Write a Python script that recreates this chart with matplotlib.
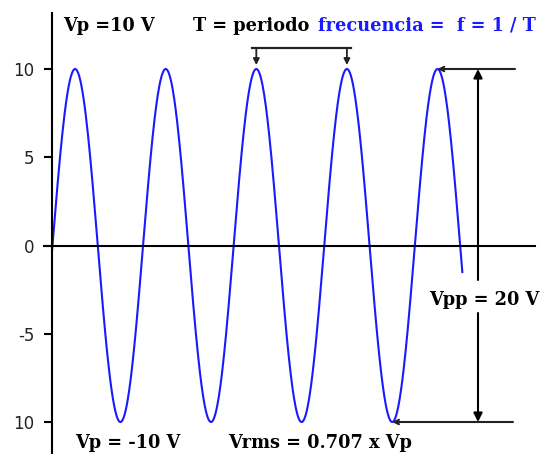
import numpy as np
import matplotlib
matplotlib.use('Agg')
from matplotlib import pyplot as plt

# Signal parameters (time measured in periods, T = 1)
vp = 10.0            # peak voltage
period = 1.0
t_zero = 0.005       # first rising zero crossing
t_start, t_end = 0.0, 4.53

y_ticks = [-10, -5, 0, 5, 10]
y_tick_labels = ['10', '-5', '0', '5', '10']

# Canvas scale: pixels per period / per volt
W, H = 545, 454
x0_px, px_per_T = 52, 90.6
y0_px, px_per_V = 245.5, 17.65

BLUE = '#1a1aff'
INK = '#222222'


def px(x, y):
    # figure fraction from pixel position (origin top-left)
    return x / W, 1 - y / H


fig = plt.figure(figsize=(W / 100, H / 100), dpi=100)
ax = fig.add_axes([0, 0, 1, 1])
ax.set_xlim(-x0_px / px_per_T, (W - x0_px) / px_per_T)
ax.set_ylim(-(H - y0_px) / px_per_V, y0_px / px_per_V)

# Waveform
t = np.linspace(t_start, t_end, 800)
v = vp * np.sin(2 * np.pi * (t - t_zero) / period)
ax.plot(t, v, color=BLUE, lw=1.5, solid_capstyle='butt')

# Axes: left spine and zero line
for side in ['top', 'right']:
    ax.spines[side].set_visible(False)
ax.spines['left'].set_position(('data', 0))
ax.spines['bottom'].set_position(('data', 0))
ax.spines['left'].set_bounds(-12.5, (y0_px - 13) / px_per_V)
ax.spines['bottom'].set_bounds(-8 / px_per_T, (535 - x0_px) / px_per_T)
for side in ['left', 'bottom']:
    ax.spines[side].set_linewidth(1.5)
    ax.spines[side].set_color('black')
ax.set_xticks([])
ax.set_yticks(y_ticks)
ax.set_yticklabels(y_tick_labels)
ax.tick_params(axis='y', direction='out', length=6, width=1.5, pad=6.5,
               labelsize=12, labelcolor=INK, color='black')
for lab in ax.get_yticklabels():
    lab.set_family('DejaVu Sans')

peaks = [t_zero + 0.25 * period + k * period for k in range(5)]
troughs = [t_zero + 0.75 * period + k * period for k in range(4)]

# Period marker over two neighbouring peaks
bar_v = (y0_px - 48) / px_per_V
tip_v = (y0_px - 65) / px_per_V
ax.plot([peaks[2] - 4 / px_per_T, peaks[3] + 4 / px_per_T], [bar_v, bar_v],
        color=INK, lw=1.6)
for tp in peaks[2:4]:
    ax.annotate('', xy=(tp, tip_v), xytext=(tp, bar_v),
                arrowprops=dict(arrowstyle='-|>', color=INK, lw=1.3,
                                mutation_scale=9, shrinkA=0, shrinkB=0))

# Peak-to-peak marker
x_pp = (478 - x0_px) / px_per_T
ax.annotate('', xy=(peaks[4], vp), xytext=((515 - x0_px) / px_per_T, vp),
            arrowprops=dict(arrowstyle='->', color=INK, lw=1.5,
                            mutation_scale=8, shrinkA=0, shrinkB=0))
ax.annotate('', xy=(troughs[3], -vp), xytext=((513 - x0_px) / px_per_T, -vp),
            arrowprops=dict(arrowstyle='->', color=INK, lw=1.5,
                            mutation_scale=8, shrinkA=0, shrinkB=0))
gap_top = (y0_px - 280) / px_per_V
gap_bot = (y0_px - 313) / px_per_V
ax.annotate('', xy=(x_pp, vp), xytext=(x_pp, gap_top),
            arrowprops=dict(arrowstyle='-|>', color='black', lw=1.5,
                            mutation_scale=13, shrinkA=0, shrinkB=0))
ax.annotate('', xy=(x_pp, -vp), xytext=(x_pp, gap_bot),
            arrowprops=dict(arrowstyle='-|>', color='black', lw=1.5,
                            mutation_scale=13, shrinkA=0, shrinkB=0))

# Labels
lbl = dict(family='DejaVu Serif', weight='bold', size=12.8, va='baseline',
           ha='left', color='black')
fig.text(*px(63, 31), 'Vp =10 V', **lbl)
fig.text(*px(193, 31), 'T = periodo', **lbl)
fig.text(*px(318, 30), 'frecuencia =  f = 1 / T', **{**lbl, 'color': BLUE})
fig.text(*px(75, 448), 'Vp = -10 V', **lbl)
fig.text(*px(228, 448), 'Vrms = 0.707 x Vp', **lbl)
fig.text(*px(429, 305), 'Vpp = 20 V', **lbl)

fig.savefig('out.png', dpi=100)
